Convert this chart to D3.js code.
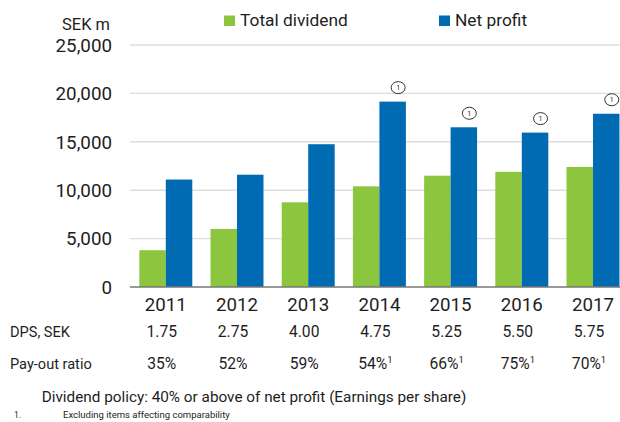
<!DOCTYPE html>
<html>
<head>
<meta charset="utf-8">
<script src="https://cdn.jsdelivr.net/npm/d3@7"></script>
<style>
  html, body { margin: 0; padding: 0; background: #fff; }
  svg { display: block; }
  text { font-family: Roboto, "Noto Sans", sans-serif; fill: #1e1e1e; }
</style>
</head>
<body>
<svg id="chart" width="620" height="422"></svg>
<script>
// ---- data ----
const years = ["2011", "2012", "2013", "2014", "2015", "2016", "2017"];
const totalDividend = [3800, 6000, 8750, 10400, 11500, 11900, 12400];
const netProfit = [11100, 11600, 14750, 19150, 16500, 15950, 17900];
const dps = ["1.75", "2.75", "4.00", "4.75", "5.25", "5.50", "5.75"];
const payoutRatio = ["35%", "52%", "59%", "54%", "66%", "75%", "70%"];
const footnoteFlag = [false, false, false, true, true, true, true];
const yTicks = [0, 5000, 10000, 15000, 20000, 25000];
const seriesNames = ["Total dividend", "Net profit"];
const colors = ["#8cc63f", "#006bb3"];

const svg = d3.select("#chart");
const W = 620, H = 422;
svg.append("rect").attr("width", W).attr("height", H).attr("fill", "#fff");

// measuring helper: font size so that sample text reaches target width
function fitSize(sample, target, base) {
  const t = svg.append("text").attr("font-size", base).text(sample);
  const w = t.node().getComputedTextLength();
  t.remove();
  return base * target / w;
}

const y = d3.scaleLinear().domain([0, 25000]).range([287, 45]);
const x = d3.scaleBand().domain(years).range([130.2, 628.6]).paddingInner(0.256).paddingOuter(0.128);
const x1 = d3.scaleBand().domain([0, 1]).range([0, x.bandwidth()]);

// gridlines
const gridX0 = 130, gridX1 = 620;
svg.append("g").selectAll("line").data(yTicks.filter(d => d > 0)).join("line")
  .attr("x1", gridX0).attr("x2", gridX1)
  .attr("y1", d => y(d)).attr("y2", d => y(d))
  .attr("stroke", "#dedede").attr("stroke-width", 1.4);

// y tick labels
const tickSize = fitSize("25,000", 56.5, 18);
const fmt = d3.format(",");
svg.append("g").selectAll("text").data(yTicks).join("text")
  .attr("x", 112).attr("y", d => y(d) + tickSize * 0.36)
  .attr("text-anchor", "end").attr("font-size", tickSize)
  .text(d => fmt(d));

svg.append("text").attr("x", 110).attr("y", 29.5).attr("text-anchor", "end")
  .attr("font-size", fitSize("SEK m", 48, 17)).text("SEK m");

// bars
const groups = svg.append("g").selectAll("g").data(years).join("g")
  .attr("transform", d => `translate(${x(d)},0)`);
groups.append("rect")
  .attr("x", x1(0)).attr("width", x1.bandwidth())
  .attr("y", (d, i) => y(totalDividend[i]))
  .attr("height", (d, i) => y(0) - y(totalDividend[i]))
  .attr("fill", colors[0]);
groups.append("rect")
  .attr("x", x1(1)).attr("width", x1.bandwidth())
  .attr("y", (d, i) => y(netProfit[i]))
  .attr("height", (d, i) => y(0) - y(netProfit[i]))
  .attr("fill", colors[1]);

// footnote markers above net profit bars
const marks = years.map((d, i) => ({ d, i })).filter(o => footnoteFlag[o.i]);
const mg = svg.append("g").selectAll("g").data(marks).join("g")
  .attr("transform", o => `translate(${x(o.d) + x1(1) + x1.bandwidth() / 2 + 5.5},${y(netProfit[o.i]) - 14})`);
mg.append("ellipse").attr("rx", 7).attr("ry", 6)
  .attr("fill", "#fff").attr("stroke", "#333").attr("stroke-width", 1);
mg.append("text").attr("text-anchor", "middle").attr("y", 2.5)
  .attr("font-size", 7).text("1");

// axis line
svg.append("line").attr("x1", gridX0).attr("x2", gridX1)
  .attr("y1", y(0)).attr("y2", y(0))
  .attr("stroke", "#777").attr("stroke-width", 1.5);

// legend
const legSize = fitSize(seriesNames[0], 108, 17);
const legX = [224, 439];
seriesNames.forEach((n, i) => {
  svg.append("rect").attr("x", legX[i]).attr("y", 15.5).attr("width", 11).attr("height", 10.5).attr("fill", colors[i]);
  svg.append("text").attr("x", legX[i] + 16).attr("y", 26).attr("font-size", legSize).text(n);
});

// year labels
const yearSize = fitSize("2011", 42, 18);
svg.append("g").selectAll("text").data(years).join("text")
  .attr("x", d => x(d) + x.bandwidth() / 2).attr("y", 311)
  .attr("text-anchor", "middle").attr("font-size", yearSize).text(d => d);

// DPS row
const rowSize = fitSize("DPS, SEK", 60, 15);
svg.append("text").attr("x", 10).attr("y", 337).attr("font-size", rowSize).text("DPS, SEK");
const valSize = fitSize("1.75", 30.5, 15);
svg.append("g").selectAll("text").data(years).join("text")
  .attr("x", d => x(d) + x.bandwidth() / 2 - 4).attr("y", 337)
  .attr("text-anchor", "middle").attr("font-size", valSize).text((d, i) => dps[i]);

// pay-out ratio row
svg.append("text").attr("x", 10).attr("y", 368.5).attr("font-size", rowSize).text("Pay-out ratio");
const pr = svg.append("g").selectAll("text").data(years).join("text")
  .attr("x", d => x(d) + x.bandwidth() / 2 - 4).attr("y", 368.5)
  .attr("text-anchor", "middle").attr("font-size", valSize);
pr.append("tspan").text((d, i) => payoutRatio[i]);
pr.filter((d, i) => footnoteFlag[i]).append("tspan")
  .attr("font-size", valSize * 0.6).attr("dy", -6).text("1");

// policy text
const polText = "Dividend policy: 40% or above of net profit (Earnings per share)";
svg.append("text").attr("x", 41.7).attr("y", 401.5).attr("font-size", fitSize(polText, 425, 16)).text(polText);

// footnote
svg.append("text").attr("x", 14).attr("y", 417.5).attr("font-size", 8.5).text("1.");
const fnText = "Excluding items affecting comparability";
svg.append("text").attr("x", 63).attr("y", 417.5).attr("font-size", fitSize(fnText, 167, 9)).text(fnText);
</script>
</body>
</html>
